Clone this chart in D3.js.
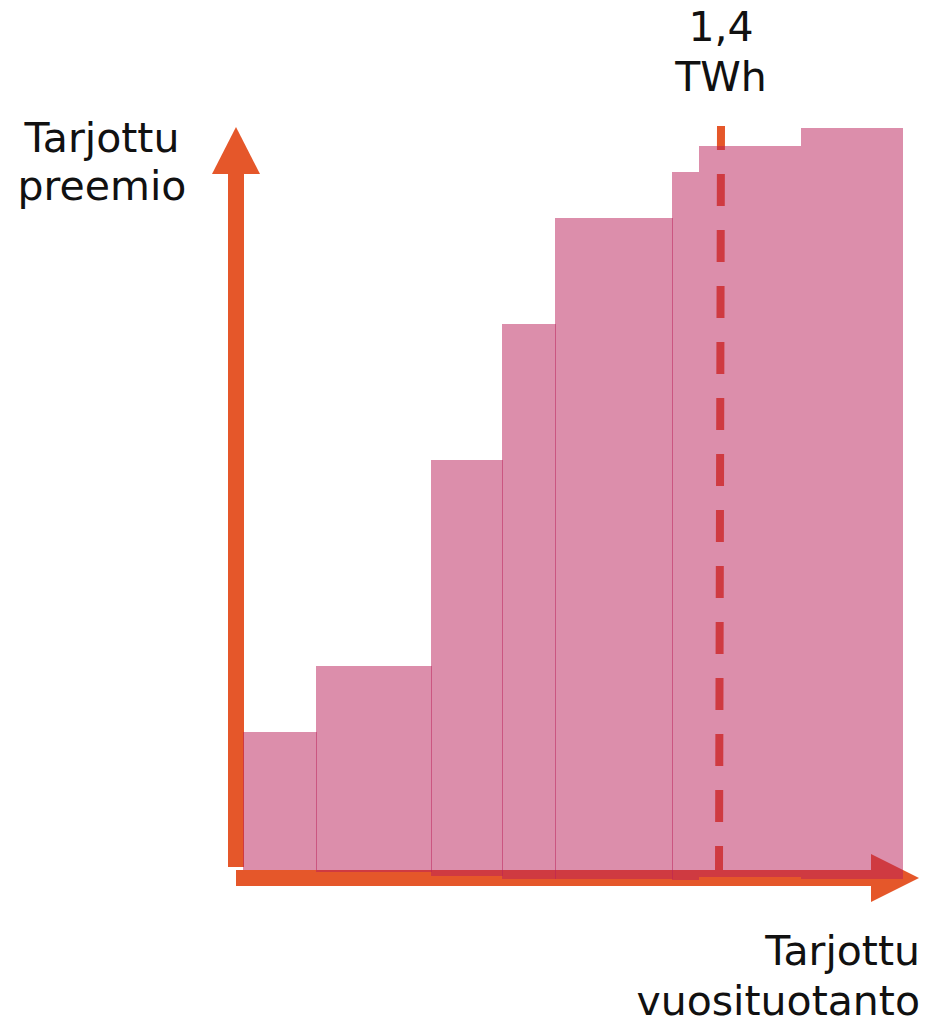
<!DOCTYPE html>
<html>
<head>
<meta charset="utf-8">
<script src="https://cdn.jsdelivr.net/npm/d3@7"></script>
<style>
  body { margin: 0; background: #fff; }
  svg text { font-family: "DejaVu Sans", Verdana, sans-serif; font-size: 41px; fill: #111; }
</style>
</head>
<body>
<svg id="chart" width="937" height="1021"></svg>
<script>
// offered annual production per bid (TWh) and offered premium (relative, 0-100)
const volumes = [0.217, 0.337, 0.208, 0.155, 0.343, 0.076, 0.299, 0.299];
const premiums = [18.6, 27.5, 55.2, 73.5, 87.8, 93.9, 97.4, 99.9];
const cutoff = 1.4;
const cutoffLabel = ['1,4', 'TWh'];
const yTitle = ['Tarjottu', 'preemio'];
const xTitle = ['Tarjottu', 'vuosituotanto'];
// small drawing artefact: bars run a few px into the x axis
const bottomShift = [0, 2, 6, 9, 9, 10, 7, 9];

const orange = '#e5572a', barColor = 'rgb(185,29,87)';
const x0 = 243, y0 = 870;
const x = d3.scale ? null : null;
const xs = d3.scaleLinear().domain([0, cutoff]).range([x0, 721]);
const ys = d3.scaleLinear().domain([0, 100]).range([y0, 127]);

let acc = 0;
const bars = volumes.map((v, i) => {
    const b = {start: acc, end: acc + v, premium: premiums[i], shift: bottomShift[i], i};
    acc += v;
    return b;
});

const svg = d3.select('svg#chart');

// dashed cutoff line (under the bars)
svg.append('line')
    .attr('x1', xs(cutoff)).attr('x2', xs(cutoff) - 2)
    .attr('y1', 126).attr('y2', y0)
    .attr('stroke', orange).attr('stroke-width', 8)
    .attr('stroke-dasharray', '32 24').attr('stroke-dashoffset', 8);

// axes
svg.append('rect').attr('x', 236).attr('y', 870).attr('width', 640).attr('height', 16).attr('fill', orange);
svg.append('path').attr('d', 'M 871 854 L 919 878 L 871 902 Z').attr('fill', orange);
svg.append('rect').attr('x', 228).attr('y', 172).attr('width', 16).attr('height', 695).attr('fill', orange);
svg.append('path').attr('d', 'M 212 174 L 236 127 L 260 174 Z').attr('fill', orange);

// bid bars
svg.append('g').selectAll('rect').data(bars)
    .join('rect')
    .attr('x', d => Math.round(xs(d.start)) - (d.i > 0 && d.i < 6 ? 1 : 0))
    .attr('width', d => Math.round(xs(d.end)) - Math.round(xs(d.start)) + (d.i > 0 && d.i < 6 ? 1 : 0))
    .attr('y', d => Math.round(ys(d.premium)))
    .attr('height', d => y0 + d.shift - Math.round(ys(d.premium)))
    .attr('fill', barColor)
    .attr('fill-opacity', 0.5);

// labels
svg.append('text').attr('text-anchor', 'middle')
    .selectAll('tspan').data(yTitle).join('tspan')
    .attr('x', 102).attr('y', (d, i) => 152 + i * 48).text(d => d);
svg.append('text').attr('text-anchor', 'middle')
    .selectAll('tspan').data(cutoffLabel).join('tspan')
    .attr('x', xs(cutoff)).attr('y', (d, i) => 41 + i * 50).text(d => d);
svg.append('text').attr('text-anchor', 'end')
    .selectAll('tspan').data(xTitle).join('tspan')
    .attr('x', 920).attr('y', (d, i) => 965 + i * 50).text(d => d);
</script>
</body>
</html>
